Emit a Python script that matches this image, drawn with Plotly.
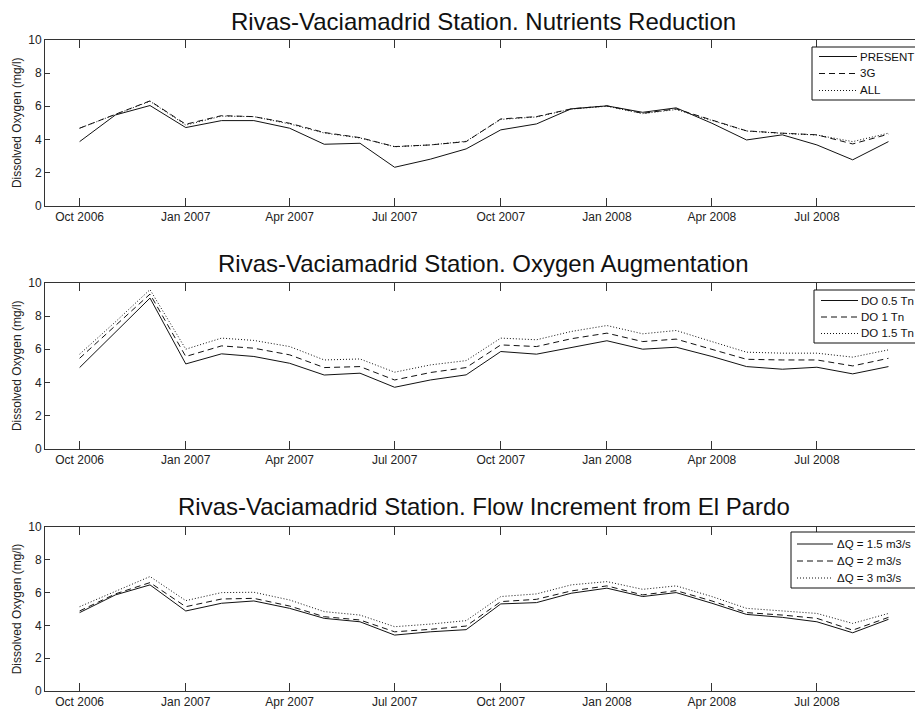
import plotly.graph_objects as go

# Monthly sampling dates (first of each month)
months = [
    "2006-10-01", "2006-11-01", "2006-12-01", "2007-01-01", "2007-02-01", "2007-03-01",
    "2007-04-01", "2007-05-01", "2007-06-01", "2007-07-01", "2007-08-01", "2007-09-01",
    "2007-10-01", "2007-11-01", "2007-12-01", "2008-01-01", "2008-02-01", "2008-03-01",
    "2008-04-01", "2008-05-01", "2008-06-01", "2008-07-01", "2008-08-01", "2008-09-01",
]

# Panel 1: nutrients reduction scenarios
present = [3.86, 5.47, 6.04, 4.71, 5.13, 5.13, 4.67, 3.70, 3.76, 2.31, 2.80, 3.42,
           4.57, 4.93, 5.84, 6.02, 5.63, 5.90, 4.97, 3.96, 4.27, 3.66, 2.76, 3.86]
g3 = [4.67, 5.50, 6.32, 4.91, 5.43, 5.37, 4.97, 4.41, 4.10, 3.56, 3.66, 3.86,
      5.23, 5.37, 5.84, 6.02, 5.57, 5.84, 5.17, 4.51, 4.37, 4.27, 3.72, 4.31]
all_ = [4.67, 5.52, 6.30, 4.86, 5.40, 5.37, 4.93, 4.38, 4.08, 3.55, 3.66, 3.88,
        5.20, 5.35, 5.82, 6.00, 5.55, 5.80, 5.12, 4.50, 4.36, 4.26, 3.86, 4.37]

# Panel 2: oxygen augmentation scenarios
do05 = [4.89, 7.00, 9.09, 5.11, 5.72, 5.56, 5.15, 4.44, 4.55, 3.70, 4.14, 4.45,
        5.86, 5.70, 6.12, 6.51, 6.00, 6.12, 5.56, 4.95, 4.79, 4.91, 4.51, 4.95]
do1 = [5.45, 7.40, 9.33, 5.56, 6.20, 6.06, 5.66, 4.89, 4.95, 4.14, 4.59, 4.89,
       6.26, 6.16, 6.63, 6.97, 6.46, 6.61, 6.00, 5.39, 5.35, 5.35, 4.99, 5.45]
do15 = [5.70, 7.65, 9.60, 6.00, 6.67, 6.53, 6.16, 5.35, 5.41, 4.61, 5.05, 5.31,
        6.67, 6.57, 7.07, 7.43, 6.93, 7.13, 6.46, 5.82, 5.76, 5.76, 5.52, 5.96]

# Panel 3: flow increment scenarios
dq15 = [4.78, 5.86, 6.47, 4.88, 5.35, 5.49, 5.04, 4.43, 4.22, 3.41, 3.61, 3.74,
        5.31, 5.39, 5.96, 6.27, 5.76, 6.00, 5.35, 4.67, 4.49, 4.22, 3.55, 4.37]
dq2 = [4.88, 5.92, 6.61, 5.14, 5.61, 5.65, 5.18, 4.53, 4.33, 3.61, 3.76, 3.96,
       5.45, 5.59, 6.10, 6.41, 5.86, 6.12, 5.49, 4.78, 4.63, 4.43, 3.71, 4.49]
dq3 = [5.14, 6.06, 6.98, 5.51, 6.00, 6.02, 5.55, 4.84, 4.63, 3.92, 4.08, 4.29,
       5.76, 5.92, 6.47, 6.67, 6.20, 6.41, 5.76, 5.04, 4.88, 4.73, 4.12, 4.73]

tick_dates = ["2006-10-01", "2007-01-01", "2007-04-01", "2007-07-01",
              "2007-10-01", "2008-01-01", "2008-04-01", "2008-07-01"]
tick_labels = ["Oct 2006", "Jan 2007", "Apr 2007", "Jul 2007",
               "Oct 2007", "Jan 2008", "Apr 2008", "Jul 2008"]

titles = [
    "Rivas-Vaciamadrid Station. Nutrients Reduction",
    "Rivas-Vaciamadrid Station. Oxygen Augmentation",
    "Rivas-Vaciamadrid Station. Flow Increment from El Pardo",
]

panels = [
    [("PRESENT", present), ("3G", g3), ("ALL", all_)],
    [("DO 0.5 Tn", do05), ("DO 1 Tn", do1), ("DO 1.5 Tn", do15)],
    [("\u0394Q = 1.5 m3/s", dq15), ("\u0394Q = 2 m3/s", dq2), ("\u0394Q = 3 m3/s", dq3)],
]

W, H = 915, 710
FONT = "Liberation Sans, Arial, sans-serif"
INK = "#111111"
AXIS = "#333333"
dashes = ["solid", "6px,4px", "1px,2px"]

# pixel geometry of each axes box (top, bottom)
boxes = [(40, 205.5), (283, 448.5), (527, 691)]
title_y = [21.5, 263.5, 506.5]
# legend boxes: left, top, bottom, first row, row step, sample start/end, text x, font size
legend_geo = [
    dict(left=812, top=47, bottom=100, row0=56.5, step=17, s0=819, s1=857, tx=858, fs=11.5),
    dict(left=814, top=290, bottom=343, row0=300.5, step=16.5, s0=821, s1=858, tx=859, fs=11.5),
    dict(left=791, top=532, bottom=588, row0=544, step=17, s0=797, s1=833, tx=835, fs=11.5),
]


def px(xp):
    return xp / W


def py(yp):
    return 1 - yp / H


fig = go.Figure()
shapes, annotations = [], []
layout = dict(
    width=W, height=H,
    margin=dict(l=0, r=0, t=0, b=0, autoexpand=False),
    paper_bgcolor="white", plot_bgcolor="white",
    font=dict(family=FONT, color="#222222", size=12),
    showlegend=False,
)

x0 = 45 / W
for i, series in enumerate(panels):
    n = "" if i == 0 else str(i + 1)
    for (name, vals), dash in zip(series, dashes):
        fig.add_trace(go.Scatter(
            x=months, y=vals, name=name, mode="lines",
            line=dict(color=INK, width=1, dash=dash),
            xaxis="x" + n, yaxis="y" + n,
        ))
    top, bot = boxes[i]
    layout["xaxis" + n] = dict(
        domain=[x0, 1], anchor="y" + n,
        range=["2006-09-01", "2008-09-24"],
        tickvals=tick_dates, ticktext=tick_labels,
        ticks="inside", ticklen=8, tickcolor=AXIS,
        showline=True, linecolor=AXIS, linewidth=1, mirror="ticks",
        showgrid=False, zeroline=False,
        tickfont=dict(size=12, family=FONT, color="#222222"),
    )
    layout["yaxis" + n] = dict(
        domain=[py(bot), py(top)], anchor="x" + n,
        range=[0, 10], dtick=2,
        ticks="inside", ticklen=5, tickcolor=AXIS,
        showline=True, linecolor=AXIS, linewidth=1,
        showgrid=False, zeroline=False,
        tickfont=dict(size=12, family=FONT, color="#222222"),
        title=dict(text="Dissolved Oxygen (mg/l)", standoff=4,
                   font=dict(size=12, family=FONT, color="#222222")),
    )
    annotations.append(dict(
        text=titles[i], xref="paper", yref="paper",
        x=(45 + 922) / 2 / W, y=py(title_y[i]),
        xanchor="center", yanchor="middle", showarrow=False,
        font=dict(size=24, family=FONT, color=INK),
    ))

    # legend box, running off the right edge of the figure
    g = legend_geo[i]
    shapes.append(dict(
        type="rect", xref="paper", yref="paper",
        x0=px(g["left"]), x1=px(W + 20), y0=py(g["bottom"]), y1=py(g["top"]),
        line=dict(color=INK, width=1), fillcolor="white", layer="above",
    ))
    for k, ((name, _), dash) in enumerate(zip(series, dashes)):
        ry = g["row0"] + k * g["step"]
        shapes.append(dict(
            type="line", xref="paper", yref="paper",
            x0=px(g["s0"]), x1=px(g["s1"]), y0=py(ry), y1=py(ry),
            line=dict(color=INK, width=1, dash=dash), layer="above",
        ))
        annotations.append(dict(
            text=name, xref="paper", yref="paper",
            x=px(g["tx"]), y=py(ry), xanchor="left", yanchor="middle",
            showarrow=False, font=dict(size=g["fs"], family=FONT, color=INK),
        ))

layout["shapes"] = shapes
layout["annotations"] = annotations
fig.update_layout(**layout)
fig.write_html("out.html")
